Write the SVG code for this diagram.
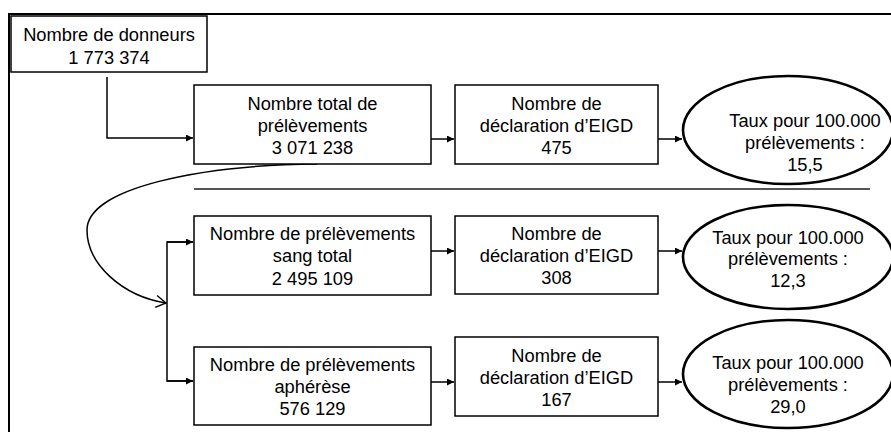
<svg xmlns="http://www.w3.org/2000/svg" width="891" height="432" viewBox="0 0 891 432">
<defs>
<style>
text{font-family:"Liberation Sans",Arial,sans-serif;font-size:18.3px;fill:#000;text-anchor:middle}
.box{fill:#fff;stroke:#000;stroke-width:1.5}
.ell{fill:#fff;stroke:#000;stroke-width:2.6}
.ln{fill:none;stroke:#000;stroke-width:1.5}
</style>
<marker id="ah" viewBox="0 0 10 10" refX="10" refY="5" markerWidth="7" markerHeight="7" markerUnits="userSpaceOnUse" orient="auto"><path d="M0,0 L10,5 L0,10 z" fill="#000"/></marker>
<marker id="open" viewBox="0 0 12 14" refX="11" refY="7" markerWidth="12" markerHeight="14" markerUnits="userSpaceOnUse" orient="auto"><path d="M1,1 L11,7 L1,13" fill="none" stroke="#000" stroke-width="1.4"/></marker>
</defs>
<rect width="891" height="432" fill="#fff"/>
<path d="M9,432 V14 H891" fill="none" stroke="#000" stroke-width="2"/>
<line x1="194" y1="189" x2="870" y2="189" stroke="#555" stroke-width="2"/>

<g id="connectors">
<path class="ln" d="M107,77 V138 H193" marker-end="url(#ah)"/>
<path class="ln" d="M431,139 H454" marker-end="url(#ah)"/>
<path class="ln" d="M658,139 H682" marker-end="url(#ah)"/>
<path class="ln" d="M317,164 C200,165 87,188 87,230 C87,264 122,296 166,303" marker-end="url(#open)"/>
<path class="ln" d="M193,242 H167 V381 H193" />
<path class="ln" d="M167,242 H193" marker-end="url(#ah)"/>
<path class="ln" d="M167,381 H193" marker-end="url(#ah)"/>
<path class="ln" d="M431,251 H454" marker-end="url(#ah)"/>
<path class="ln" d="M658,251 H682" marker-end="url(#ah)"/>
<path class="ln" d="M431,382 H454" marker-end="url(#ah)"/>
<path class="ln" d="M658,382 H682" marker-end="url(#ah)"/>
</g>

<g id="donneurs">
<rect class="box" x="11" y="16" width="196" height="56"/>
<text x="109" y="40.5">Nombre de donneurs</text>
<text x="109" y="63.5">1 773 374</text>
</g>

<g id="total">
<rect class="box" x="194" y="85" width="237" height="79"/>
<text x="312.5" y="110">Nombre total de</text>
<text x="312.5" y="132">prélèvements</text>
<text x="312.5" y="154">3 071 238</text>
</g>

<g id="eigd-total">
<rect class="box" x="455" y="85" width="203" height="79"/>
<text x="556.5" y="110">Nombre de</text>
<text x="556.5" y="132">déclaration d’EIGD</text>
<text x="556.5" y="154">475</text>
</g>

<g id="taux-total">
<ellipse class="ell" cx="788" cy="130" rx="105" ry="54"/>
<text x="805" y="127">Taux pour 100.000</text>
<text x="805" y="149">prélèvements :</text>
<text x="805" y="171">15,5</text>
</g>

<g id="sang">
<rect class="box" x="194" y="216" width="237" height="79"/>
<text x="312.5" y="239.5">Nombre de prélèvements</text>
<text x="312.5" y="262">sang total</text>
<text x="312.5" y="284.5">2 495 109</text>
</g>

<g id="eigd-sang">
<rect class="box" x="455" y="216" width="203" height="78"/>
<text x="556.5" y="239.5">Nombre de</text>
<text x="556.5" y="261.5">déclaration d’EIGD</text>
<text x="556.5" y="284">308</text>
</g>

<g id="taux-sang">
<ellipse class="ell" cx="788" cy="257" rx="105" ry="52"/>
<text x="788" y="244">Taux pour 100.000</text>
<text x="788" y="265">prélèvements :</text>
<text x="788" y="287">12,3</text>
</g>

<g id="apherese">
<rect class="box" x="194" y="347" width="237" height="78"/>
<text x="312.5" y="371">Nombre de prélèvements</text>
<text x="312.5" y="393">aphérèse</text>
<text x="312.5" y="414.5">576 129</text>
</g>

<g id="eigd-apherese">
<rect class="box" x="455" y="337" width="203" height="79"/>
<text x="556.5" y="362">Nombre de</text>
<text x="556.5" y="384">déclaration d’EIGD</text>
<text x="556.5" y="406">167</text>
</g>

<g id="taux-apherese">
<ellipse class="ell" cx="788" cy="374" rx="105" ry="54"/>
<text x="788" y="368.5">Taux pour 100.000</text>
<text x="788" y="390.5">prélèvements :</text>
<text x="788" y="412.5">29,0</text>
</g>
</svg>
